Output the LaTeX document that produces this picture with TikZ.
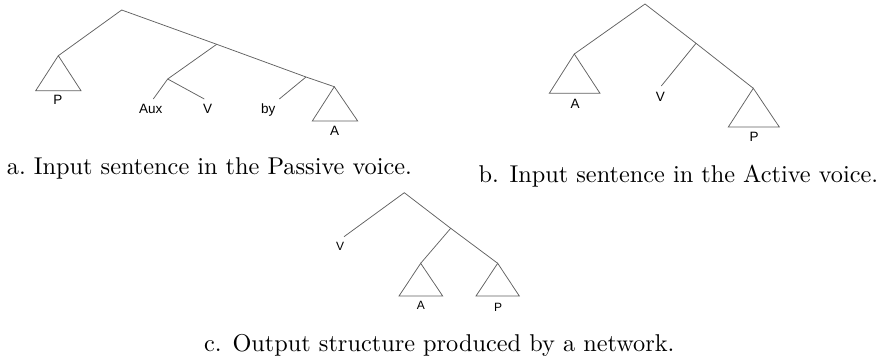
\documentclass[tikz,border=0pt]{standalone}
\usepackage{fontspec}
\newfontfamily\leaffont{Liberation Sans}
\begin{document}
\begin{tikzpicture}[x=1pt,y=-1pt,
  branch/.style={draw=black!62, line width=0.75pt, line join=miter},
  leaf/.style={font=\leaffont\fontsize{13.5}{15}\selectfont, inner sep=0pt, anchor=base},
  smallleaf/.style={font=\leaffont\fontsize{12}{14}\selectfont, inner sep=0pt, anchor=base},
  caption/.style={font=\fontsize{10}{12}\selectfont, inner sep=0pt, anchor=base west}]
\useasboundingbox (0,0) rectangle (893,359);

% ---------- (a) passive sentence ----------
\coordinate (ra)   at (121.7,10);
\coordinate (pa)   at (58.3,55.7);
\coordinate (paL)  at (35.7,90.7);
\coordinate (paR)  at (81,90.7);
\coordinate (ma)   at (216.7,44.3);
\coordinate (xa)   at (167.7,79);
\coordinate (auxe) at (153.3,99);
\coordinate (ve)   at (204.3,99);
\coordinate (bya)  at (306,77);
\coordinate (bye)  at (279.3,99);
\coordinate (aa)   at (334.3,86.7);
\coordinate (aaL)  at (312.3,121);
\coordinate (aaR)  at (357.7,121);

\draw[branch] (pa) -- (ra) -- (ma) -- (bya) -- (aa);
\draw[branch] (ma) -- (xa) -- (auxe);
\draw[branch] (xa) -- (ve);
\draw[branch] (bya) -- (bye);
\draw[branch] (pa) -- (paL) -- (paR) -- cycle;
\draw[branch] (aa) -- (aaL) -- (aaR) -- cycle;

\node[leaf] (laP)   at (58,104.3)   {P};
\node[leaf] (laAux) at (150.8,113.3) {Aux};
\node[leaf] (laV)   at (207.5,113.3) {V};
\node[leaf] (laby)  at (268.3,113.3) {by};
\node[leaf] (laA)   at (334.7,135)   {A};

% ---------- (b) active sentence ----------
\coordinate (rb)  at (645,4);
\coordinate (ab)  at (574.3,54);
\coordinate (abL) at (549.3,93.3);
\coordinate (abR) at (600,93.3);
\coordinate (vb)  at (696,43.3);
\coordinate (vbe) at (661.3,86);
\coordinate (pb)  at (753.3,88.3);
\coordinate (pbL) at (728.3,127);
\coordinate (pbR) at (779.3,127);

\draw[branch] (ab) -- (rb) -- (vb) -- (pb);
\draw[branch] (vb) -- (vbe);
\draw[branch] (ab) -- (abL) -- (abR) -- cycle;
\draw[branch] (pb) -- (pbL) -- (pbR) -- cycle;

\node[leaf] (lbA) at (575,108.3)   {A};
\node[leaf] (lbV) at (660.3,101.7) {V};
\node[leaf] (lbP) at (754.2,141.7) {P};

% ---------- (c) network output ----------
\coordinate (rc)  at (404.3,192.7);
\coordinate (vce) at (344,236.7);
\coordinate (mc)  at (450.7,228.3);
\coordinate (ac)  at (420.7,263.3);
\coordinate (acL) at (399,296);
\coordinate (acR) at (442.7,296);
\coordinate (pc)  at (497.7,263.3);
\coordinate (pcL) at (476,296);
\coordinate (pcR) at (519.3,296);

\draw[branch] (vce) -- (rc) -- (mc) -- (pc);
\draw[branch] (mc) -- (ac);
\draw[branch] (ac) -- (acL) -- (acR) -- cycle;
\draw[branch] (pc) -- (pcL) -- (pcR) -- cycle;

\node[smallleaf] (lcV) at (340,250)   {V};
\node[smallleaf] (lcA) at (420.8,309) {A};
\node[smallleaf] (lcP) at (498,311.7) {P};

% ---------- captions ----------
\node[caption] (capa) at (6.7,174)
  {\scalebox{2.43}{a.\ Input sentence in the Passive voice.}};
\node[caption] (capb) at (478.3,182)
  {\scalebox{2.43}{b. Input sentence in the Active voice.}};
\node[caption] (capc) at (204,351)
  {\scalebox{2.43}{c. Output structure produced by a network.}};
\end{tikzpicture}
\end{document}
